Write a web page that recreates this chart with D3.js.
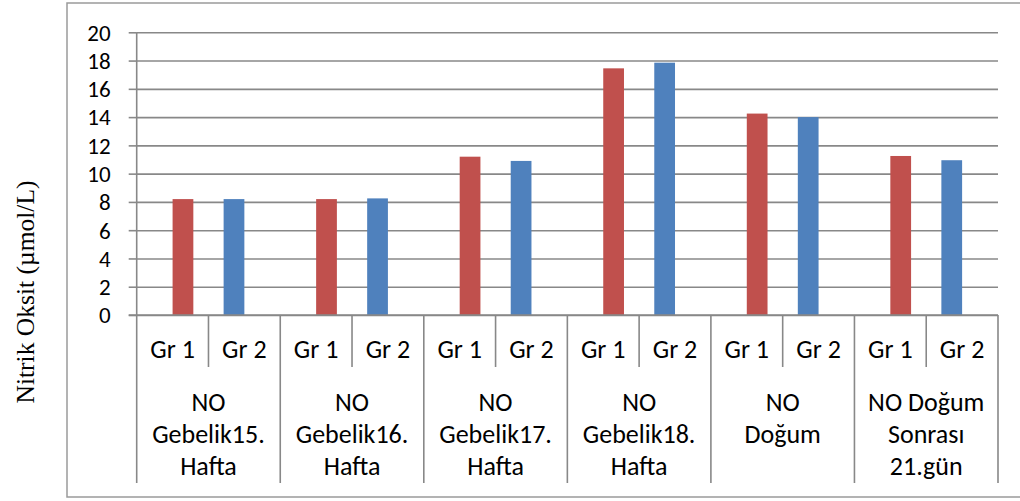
<!DOCTYPE html>
<html>
<head>
<meta charset="utf-8">
<script src="https://cdn.jsdelivr.net/npm/d3@7"></script>
<style>
  html, body { margin: 0; padding: 0; background: #fff; }
  svg { display: block; }
  .lbl { font-family: Carlito, Lato, sans-serif; fill: #000; }
</style>
</head>
<body>
<svg id="chart" width="1020" height="501"></svg>
<script>
// Measurement periods (multi-line category labels)
const groupLabels = [
  ["NO", "Gebelik15.", "Hafta"],
  ["NO", "Gebelik16.", "Hafta"],
  ["NO", "Gebelik17.", "Hafta"],
  ["NO", "Gebelik18.", "Hafta"],
  ["NO", "Doğum"],
  ["NO Doğum", "Sonrası", "21.gün"]
];
const subLabels = ["Gr 1", "Gr 2"];
// Nitric oxide, µmol/L
const gr1Values = [8.2, 8.2, 11.2, 17.45, 14.25, 11.25];
const gr2Values = [8.2, 8.25, 10.9, 17.85, 14.0, 10.95];
const yTicks = [0, 2, 4, 6, 8, 10, 12, 14, 16, 18, 20];
const yLabel = "Nitrik Oksit (µmol/L)";

const colors = { "Gr 1": "#C0504D", "Gr 2": "#4F81BD" };
const gridColor = "#888888";
const fontSize = 26;
const tickFontSize = 23;

const svg = d3.select("#chart");

// outer frame
svg.append("rect")
  .attr("x", 67).attr("y", 3)
  .attr("width", 1020 - 67 + 5).attr("height", 497 - 3)
  .attr("fill", "none").attr("stroke", "#9a9a9a").attr("stroke-width", 1.5);

const plotLeft = 136.7, plotRight = 998, plotTop = 32.3, plotBase = 315;

// one slot per (period, group)
const slots = [];
groupLabels.forEach((g, gi) => subLabels.forEach(s => slots.push({ gi, s, key: gi + "|" + s })));

const x = d3.scaleBand().domain(slots.map(d => d.key)).range([plotLeft, plotRight]).padding(0);
const inner = d3.scaleBand().domain(["Gr 2", "Gr 1"]).range([0, x.bandwidth()])
  .paddingInner(0).paddingOuter(0.73);
const y = d3.scaleLinear().domain([0, 20]).range([plotBase, plotTop]);

// horizontal gridlines
svg.append("g")
  .attr("transform", `translate(${plotLeft},0)`)
  .call(d3.axisLeft(y).tickValues(yTicks).tickSize(-(plotRight - plotLeft)).tickFormat(""))
  .call(g => g.select(".domain").remove())
  .call(g => g.selectAll("line").attr("stroke", gridColor).attr("stroke-width", 1.6));

// y axis with outside ticks and labels
svg.append("g")
  .attr("transform", `translate(${plotLeft},0)`)
  .call(d3.axisLeft(y).tickValues(yTicks).tickSize(8).tickPadding(18))
  .call(g => g.select(".domain").remove())
  .call(g => g.selectAll("line").attr("stroke", gridColor).attr("stroke-width", 1.6))
  .call(g => g.selectAll("text").attr("class", "lbl").attr("font-size", tickFontSize).attr("dy", "0.34em"));

// bars
const bars = slots.map(d => ({
  key: d.key, s: d.s,
  v: d.s === "Gr 1" ? gr1Values[d.gi] : gr2Values[d.gi]
}));
svg.append("g").selectAll("rect").data(bars).join("rect")
  .attr("x", d => x(d.key) + inner(d.s))
  .attr("width", inner.bandwidth())
  .attr("y", d => y(d.v))
  .attr("height", d => y(0) - y(d.v))
  .attr("fill", d => colors[d.s]);

// vertical axis line and baseline
svg.append("line").attr("x1", plotLeft).attr("x2", plotLeft).attr("y1", plotTop).attr("y2", plotBase)
  .attr("stroke", gridColor).attr("stroke-width", 1.6);
svg.append("line").attr("x1", plotLeft - 8).attr("x2", plotRight).attr("y1", plotBase).attr("y2", plotBase)
  .attr("stroke", gridColor).attr("stroke-width", 1.6);

// category axis: sub-labels
svg.append("g")
  .attr("transform", `translate(0,${plotBase})`)
  .call(d3.axisBottom(x).tickSize(0).tickPadding(0).tickFormat(k => k.split("|")[1]))
  .call(g => g.select(".domain").remove())
  .call(g => g.selectAll("text").attr("class", "lbl").attr("font-size", fontSize).attr("dy", 0).attr("y", 43));

// separators between slots and between periods
const boundaries = slots.map((d, i) => ({ xpos: x(d.key), major: i % 2 === 0 }));
boundaries.push({ xpos: plotRight, major: true });
svg.append("g").selectAll("line").data(boundaries).join("line")
  .attr("x1", d => d.xpos).attr("x2", d => d.xpos)
  .attr("y1", plotBase).attr("y2", d => d.major ? 483 : 367)
  .attr("stroke", gridColor).attr("stroke-width", 1.6);

// period labels
const gx = gi => (x(gi + "|Gr 1") + x(gi + "|Gr 2") + x.bandwidth()) / 2;
const gl = svg.append("g").selectAll("text").data(groupLabels).join("text")
  .attr("class", "lbl").attr("font-size", fontSize).attr("text-anchor", "middle")
  .attr("transform", (d, i) => `translate(${gx(i)},0)`);
gl.selectAll("tspan").data(d => d).join("tspan")
  .attr("x", 0).attr("y", (d, i) => 411 + i * 32).text(d => d);

// y axis title
svg.append("text")
  .attr("transform", "translate(34,292) rotate(-90)")
  .attr("text-anchor", "middle")
  .attr("font-family", "'Liberation Serif', 'Times New Roman', serif")
  .attr("font-size", 25.5).attr("fill", "#000")
  .text(yLabel);
</script>
</body>
</html>
